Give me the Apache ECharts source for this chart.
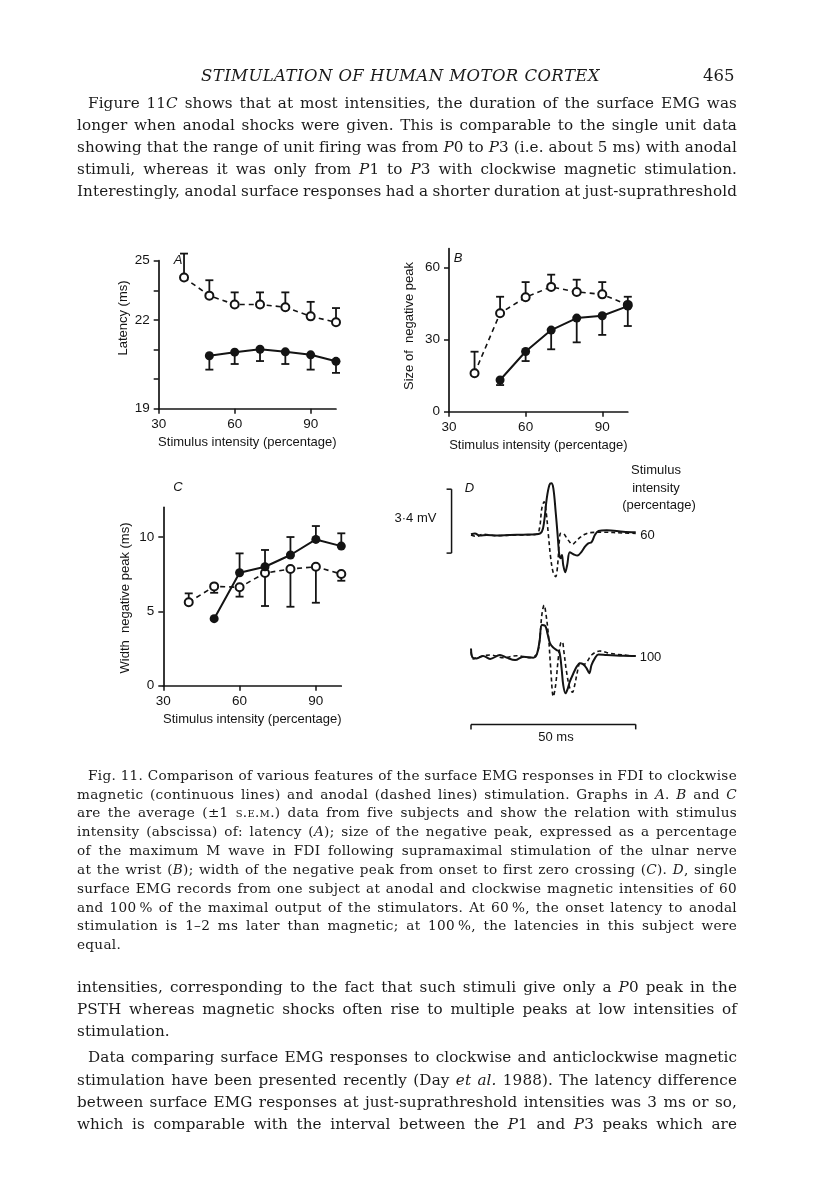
<!DOCTYPE html>
<html><head><meta charset="utf-8">
<script src="https://cdn.jsdelivr.net/npm/echarts@6/dist/echarts.min.js"></script>
<style>
html,body{margin:0;padding:0;background:#fff;}
#page{position:relative;width:816px;height:1183px;overflow:hidden;background:#fff;}
#chart{position:absolute;left:0;top:0;width:816px;height:1183px;}
.ln{position:absolute;white-space:nowrap;font-family:"DejaVu Serif",serif;color:#1a1a1a;}
.body{font-size:15.2px;line-height:20px;letter-spacing:0.1px;}
.cap{font-size:13.6px;line-height:18px;letter-spacing:0.3px;}
.head{font-size:16.5px;line-height:20px;}
.sc{font-variant:small-caps;}
</style></head>
<body><div id="page"><div id="chart"></div></div>
<script>
// ---------------- data ----------------
const intensity = [40, 50, 60, 70, 80, 90, 100];      // anodal intensities (%)
const intensityMag = [50, 60, 70, 80, 90, 100];       // magnetic intensities (%)
// A: latency (ms); error values are the end of the +/-1 SEM bar drawn
const latAnodal    = [23.43, 22.82, 22.52, 22.52, 22.43, 22.12, 21.92];
const latAnodalErr = [24.24, 23.34, 22.93, 22.93, 22.93, 22.61, 22.40];
const latMag       = [20.79, 20.91, 21.01, 20.92, 20.82, 20.60];
const latMagErr    = [20.32, 20.51, 20.61, 20.51, 20.32, 20.21];
// B: size of negative peak (% of max M wave)
const sizeAnodal    = [16.0, 41.0, 47.7, 52.0, 49.9, 48.9, 44.5];
const sizeAnodalErr = [25.0, 47.9, 54.0, 57.1, 55.0, 54.0, 47.9];
const sizeMag       = [13.2, 25.1, 34.0, 39.0, 40.0, 44.0];
const sizeMagErr    = [11.1, 21.1, 26.0, 28.9, 32.0, 35.7];
// C: width of negative peak (ms)
const widthAnodal    = [5.61, 6.68, 6.62, 7.58, 7.85, 8.0, 7.51];
const widthAnodalErr = [6.21, 6.25, 5.99, 5.36, 5.31, 5.58, 7.06];
const widthMag       = [4.51, 7.60, 8.0, 8.79, 9.84, 9.39];
const widthMagErr    = [null, 8.9, 9.13, 10.0, 10.74, 10.25];
// tick labels
const xTicks = [30, 60, 90];
const latTicks = [19, 20, 21, 22, 23, 24];
const latLabelVals = [19, 22, 24];
const latLabelText = ['19', '22', '25'];
const sizeTicks = [0, 30, 60];
const widthTicks = [0, 5, 10];
// D: single EMG records (time ms, mV)
const d60SolidT = [0,1.2,2.7,4.8,7.8,11.8,15.9,19.9,21.5,22.2,23.0,23.8,24.4,25.0,25.7,26.3,26.8,27.2,27.6,28.0,28.6,29.2,30.0,31.1,32.3,33.6,34.6,35.6,36.6,37.6,38.7,41.2,46.2,50.0];
const d60SolidV = [0,0.04,-0.07,-0.04,-0.07,-0.04,-0.02,0,0.14,0.67,1.91,2.62,2.71,2.44,1.2,-0.04,-1.1,-1.27,-1.1,-1.63,-2.02,-1.63,-0.96,-1.06,-1.13,-0.92,-0.65,-0.48,-0.42,-0.04,0.18,0.21,0.14,0.11];
const d60DashT = [0,1.7,3.7,7.8,13.9,19.9,20.8,21.5,22.2,22.8,23.5,24.2,25.0,25.7,26.3,26.8,27.2,28.0,29.0,30.0,30.8,31.8,33.0,34.6,36.1,40.2,46.2,50.0];
const d60DashV = [-0.04,-0.11,0,-0.07,-0.04,0,0.32,1.38,1.73,1.20,-0.04,-1.27,-2.07,-2.25,-1.63,-0.39,0.05,0.04,-0.18,-0.42,-0.53,-0.39,-0.18,0,0.09,0.11,0.07,0.05];
const d100SolidT = [0,0.5,1.7,3.7,5.8,8.8,10.8,13.4,15.9,18.9,19.9,20.8,21.5,22.5,23.2,24.0,25.0,26.0,26.8,27.5,28.0,28.7,29.4,30.0,31.1,32.1,33.1,34.1,35.1,35.9,36.6,37.6,38.7,41.2,46.2,50.0];
const d100SolidV = [0.44,-0.05,-0.09,0.04,-0.12,0.09,-0.05,-0.18,0,-0.05,0.09,0.80,1.68,1.65,1.24,0.71,0.48,0.35,0.27,-0.62,-1.50,-1.95,-1.68,-1.33,-0.88,-0.53,-0.35,-0.41,-0.62,-0.88,-0.44,-0.09,0.12,0.09,0.05,0.04];
const d100DashT = [0,0.7,2.7,5.8,9.8,13.9,17.9,19.9,20.8,21.5,22.2,22.8,23.5,24.2,25.0,25.7,26.5,27.2,27.7,28.2,29.0,30.0,30.8,31.5,32.3,33.2,34.2,35.2,36.6,39.1,42.2,46.2,50.0];
const d100DashV = [0.27,-0.12,0,0.09,-0.05,0.05,-0.05,0.12,0.80,2.21,2.74,2.21,1.15,-0.62,-2.12,-1.50,-0.09,0.71,0.80,0.27,-0.80,-1.68,-1.89,-1.50,-0.80,-0.30,-0.41,-0.27,0.09,0.30,0.18,0.09,0.04];
// scale bars
const mvBar = 3.4, mvBarBottom = -1.0, mvBarAt = -5.9;
const msBar = 50, msBarAt = -3.6;

// ---------------- text of the page ----------------
const R = 737;
const textLines = [
 {c:'body', x:88, y:104, j:1, h:'Figure 11<i>C</i> shows that at most intensities, the duration of the surface EMG was'},
 {c:'body', x:77, y:126, j:1, h:'longer when anodal shocks were given. This is comparable to the single unit data'},
 {c:'body', x:77, y:148, j:1, h:'showing that the range of unit firing was from <i>P</i>0 to <i>P</i>3 (i.e. about 5 ms) with anodal'},
 {c:'body', x:77, y:170, j:1, h:'stimuli, whereas it was only from <i>P</i>1 to <i>P</i>3 with clockwise magnetic stimulation.'},
 {c:'body', x:77, y:192, j:1, h:'Interestingly, anodal surface responses had a shorter duration at just-suprathreshold'},
 {c:'cap', x:88, y:776, j:1, h:'Fig. 11. Comparison of various features of the surface EMG responses in FDI to clockwise'},
 {c:'cap', x:77, y:795, j:1, h:'magnetic (continuous lines) and anodal (dashed lines) stimulation. Graphs in <i>A</i>. <i>B</i> and <i>C</i>'},
 {c:'cap', x:77, y:813, j:1, h:'are the average (±1 <span class="sc">s.e.m.</span>) data from five subjects and show the relation with stimulus'},
 {c:'cap', x:77, y:832, j:1, h:'intensity (abscissa) of: latency (<i>A</i>); size of the negative peak, expressed as a percentage'},
 {c:'cap', x:77, y:851, j:1, h:'of the maximum M wave in FDI following supramaximal stimulation of the ulnar nerve'},
 {c:'cap', x:77, y:870, j:1, h:'at the wrist (<i>B</i>); width of the negative peak from onset to first zero crossing (<i>C</i>). <i>D</i>, single'},
 {c:'cap', x:77, y:889, j:1, h:'surface EMG records from one subject at anodal and clockwise magnetic intensities of 60'},
 {c:'cap', x:77, y:908, j:1, h:'and 100\u2009% of the maximal output of the stimulators. At 60\u2009%, the onset latency to anodal'},
 {c:'cap', x:77, y:926, j:1, h:'stimulation is 1–2 ms later than magnetic; at 100\u2009%, the latencies in this subject were'},
 {c:'cap', x:77, y:945, j:0, h:'equal.'},
 {c:'body', x:77, y:988, j:1, h:'intensities, corresponding to the fact that such stimuli give only a <i>P</i>0 peak in the'},
 {c:'body', x:77, y:1010, j:1, h:'PSTH whereas magnetic shocks often rise to multiple peaks at low intensities of'},
 {c:'body', x:77, y:1032, j:0, h:'stimulation.'},
 {c:'body', x:88, y:1058, j:1, h:'Data comparing surface EMG responses to clockwise and anticlockwise magnetic'},
 {c:'body', x:77, y:1081, j:1, h:'stimulation have been presented recently (Day <i>et al.</i> 1988). The latency difference'},
 {c:'body', x:77, y:1103, j:1, h:'between surface EMG responses at just-suprathreshold intensities was 3 ms or so,'},
 {c:'body', x:77, y:1125, j:1, h:'which is comparable with the interval between the <i>P</i>1 and <i>P</i>3 peaks which are'}
];
const page = document.getElementById('page');
function addLine(L){
  const d = document.createElement('div');
  d.className = 'ln ' + L.c;
  d.innerHTML = L.h;
  d.style.left = L.x + 'px';
  const lh = L.c === 'cap' ? 18 : 20;
  d.style.top = (L.y - lh / 2 - 1) + 'px';
  page.appendChild(d);
  return d;
}
textLines.forEach(L => {
  const d = addLine(L);
  if (L.j) {
    const w = d.getBoundingClientRect().width;
    const n = (d.textContent.match(/ /g) || []).length;
    let ws = (R - L.x - w) / n;
    if (ws < -1.5) {
      const base = parseFloat(getComputedStyle(d).letterSpacing) || 0;
      d.style.letterSpacing = (base + (R - L.x - w) / d.textContent.length) + 'px';
      ws = 0;
    }
    d.style.wordSpacing = ws + 'px';
  }
});
// running head
const head = addLine({c:'head', x:201, y:77, h:'<i>STIMULATION OF HUMAN MOTOR CORTEX</i>'});
{ const w = head.getBoundingClientRect().width; const n = head.textContent.length;
  head.style.letterSpacing = ((399 - w) / n) + 'px'; }
addLine({c:'head', x:703, y:77, h:'465'});

// ---------------- chart ----------------
const ink = '#141414';
const sans = "'Liberation Sans', Arial, Helvetica, sans-serif";
const chart = echarts.init(document.getElementById('chart'), null, {renderer:'canvas'});

function xAx(g, name){
  return {type:'value', gridIndex:g, min:30, max:100, interval:30,
    axisLine:{show:true, onZero:false, lineStyle:{color:ink, width:1.7}},
    axisTick:{show:true, inside:false, length:5, customValues:xTicks, lineStyle:{color:ink, width:1.5}},
    axisLabel:{customValues:xTicks, margin:9, color:ink, fontSize:13.5, fontFamily:sans},
    splitLine:{show:false},
    name:name, nameLocation:'middle', nameGap:27,
    nameTextStyle:{color:ink, fontSize:13, fontFamily:sans}};
}
function yAx(g, min, max, ticks, labels, fmt){
  return {type:'value', gridIndex:g, min:min, max:max,
    axisLine:{show:true, onZero:false, lineStyle:{color:ink, width:1.7}},
    axisTick:{show:true, inside:false, length:5, customValues:ticks, lineStyle:{color:ink, width:1.5}},
    axisLabel:{customValues:labels, margin:9, color:ink, fontSize:13.5, fontFamily:sans, formatter:fmt},
    splitLine:{show:false}};
}
function hidden(g, min, max){ return {type:'value', gridIndex:g, min:min, max:max, show:false, splitLine:{show:false}}; }

function errBars(g, xs, ys, es){
  return {type:'custom', xAxisIndex:g, yAxisIndex:g, z:3, silent:true, clip:false,
    data: xs.map((x, i) => [x, ys[i], es[i]]).filter(d => d[2] != null),
    renderItem:(p, api) => {
      const a = api.coord([api.value(0), api.value(1)]);
      const b = api.coord([api.value(0), api.value(2)]);
      const st = {stroke:ink, lineWidth:1.8};
      return {type:'group', children:[
        {type:'line', shape:{x1:a[0], y1:a[1], x2:b[0], y2:b[1]}, style:st},
        {type:'line', shape:{x1:b[0]-4, y1:b[1], x2:b[0]+4, y2:b[1]}, style:st}
      ]};
    }};
}
function solid(g, xs, ys){
  return {type:'line', xAxisIndex:g, yAxisIndex:g, z:5, silent:true,
    data: xs.map((x, i) => [x, ys[i]]),
    symbol:'circle', symbolSize:9, itemStyle:{color:ink},
    lineStyle:{color:ink, width:2}};
}
function dashed(g, xs, ys){
  return {type:'line', xAxisIndex:g, yAxisIndex:g, z:4, silent:true,
    data: xs.map((x, i) => [x, ys[i]]),
    symbol:'circle', symbolSize:8, itemStyle:{color:'#fff', borderColor:ink, borderWidth:2},
    lineStyle:{color:ink, width:1.6, type:[5, 4]}};
}
function trace(g, ts, vs, isDash){
  return {type:'line', xAxisIndex:g, yAxisIndex:g, silent:true, showSymbol:false, symbol:'none',
    smooth:0.35, data: ts.map((t, i) => [t, vs[i]]),
    lineStyle:{color:ink, width: isDash ? 1.6 : 2, type: isDash ? [4, 3] : 'solid'}};
}

const txt = (t, x, y, o) => Object.assign({type:'text', x:x, y:y, silent:true,
  style:{text:t, fill:ink, font:'13px ' + sans, textAlign:'center', textVerticalAlign:'middle'}}, o || {});
const ital = (t, x, y) => txt(t, x, y, {style:{text:t, fill:ink, font:'italic 13px ' + sans, textAlign:'center', textVerticalAlign:'middle'}});

const option = {
  animation:false,
  backgroundColor:'transparent',
  grid:[
    {left:158.7, top:260.7, width:177.3, height:148},
    {left:449, top:248.5, width:178.8, height:163.2},
    {left:163.3, top:507.3, width:178, height:178.4},
    {left:471, top:477.9, width:164.7, height:103.4},
    {left:471, top:600.3, width:164.7, height:103.4}
  ],
  xAxis:[ xAx(0, 'Stimulus intensity (percentage)'), xAx(1, 'Stimulus intensity (percentage)'),
          xAx(2, 'Stimulus intensity (percentage)'), hidden(3, 0, 50), hidden(4, 0, 50) ],
  yAxis:[
    yAx(0, 19, 24, latTicks, latLabelVals, v => latLabelText[latLabelVals.indexOf(v)] || ''),
    yAx(1, 0, 68, sizeTicks, sizeTicks, v => String(v)),
    yAx(2, 0, 12, widthTicks, widthTicks, v => String(v)),
    hidden(3, -2.5, 3), hidden(4, -2.5, 3)
  ],
  series:[
    errBars(0, intensity, latAnodal, latAnodalErr), errBars(0, intensityMag, latMag, latMagErr),
    dashed(0, intensity, latAnodal), solid(0, intensityMag, latMag),
    errBars(1, intensity, sizeAnodal, sizeAnodalErr), errBars(1, intensityMag, sizeMag, sizeMagErr),
    dashed(1, intensity, sizeAnodal), solid(1, intensityMag, sizeMag),
    errBars(2, intensity, widthAnodal, widthAnodalErr), errBars(2, intensityMag, widthMag, widthMagErr),
    dashed(2, intensity, widthAnodal), solid(2, intensityMag, widthMag),
    trace(3, d60DashT, d60DashV, true), trace(3, d60SolidT, d60SolidV, false),
    trace(4, d100DashT, d100DashV, true), trace(4, d100SolidT, d100SolidV, false),
    {type:'custom', xAxisIndex:3, yAxisIndex:3, silent:true, clip:false,
      data:[[mvBarAt, mvBarBottom, mvBarBottom + mvBar]],
      renderItem:(p, api) => {
        const a = api.coord([api.value(0), api.value(1)]);
        const b = api.coord([api.value(0), api.value(2)]);
        const st = {stroke:ink, lineWidth:1.5};
        return {type:'group', children:[
          {type:'line', shape:{x1:a[0], y1:a[1], x2:b[0], y2:b[1]}, style:st},
          {type:'line', shape:{x1:a[0]-5, y1:a[1], x2:a[0], y2:a[1]}, style:st},
          {type:'line', shape:{x1:b[0]-5, y1:b[1], x2:b[0], y2:b[1]}, style:st}
        ]};
      }},
    {type:'custom', xAxisIndex:4, yAxisIndex:4, silent:true, clip:false,
      data:[[0, msBar, msBarAt]],
      renderItem:(p, api) => {
        const a = api.coord([api.value(0), api.value(2)]);
        const b = api.coord([api.value(1), api.value(2)]);
        const st = {stroke:ink, lineWidth:1.5};
        return {type:'group', children:[
          {type:'line', shape:{x1:a[0], y1:a[1], x2:b[0], y2:b[1]}, style:st},
          {type:'line', shape:{x1:a[0], y1:a[1], x2:a[0], y2:a[1]+5}, style:st},
          {type:'line', shape:{x1:b[0], y1:b[1], x2:b[0], y2:b[1]+5}, style:st}
        ]};
      }}
  ],
  graphic:[
    ital('A', 178, 260), ital('B', 458, 258), ital('C', 178, 487), ital('D', 469.5, 488.5),
    txt('Latency (ms)', 123.5, 318, {rotation:Math.PI / 2}),
    txt('Size of  negative peak', 409, 326, {rotation:Math.PI / 2}),
    txt('Width  negative peak (ms)', 125, 598, {rotation:Math.PI / 2}),
    txt('Stimulus', 656, 470),
    txt('intensity', 656, 488),
    txt('(percentage)', 659, 505),
    txt('60', 647.5, 535),
    txt('100', 650.5, 657),
    txt('3·4 mV', 415.5, 518),
    txt('50 ms', 556, 737)
  ]
};
chart.setOption(option);
</script>
</body></html>
